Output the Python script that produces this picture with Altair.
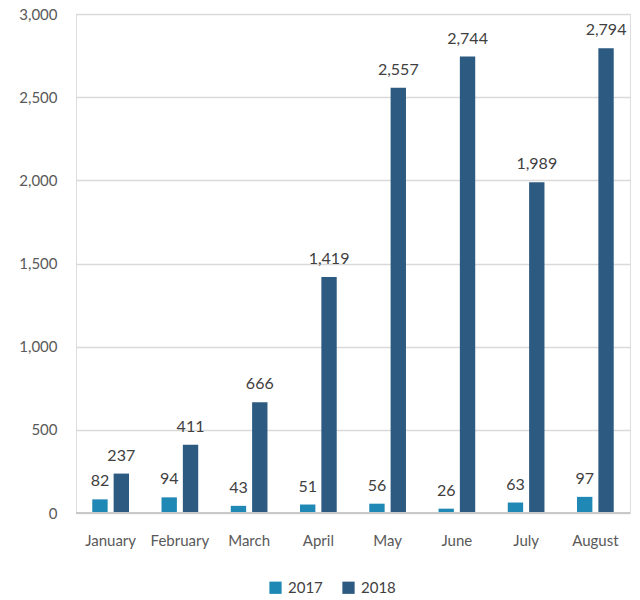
import altair as alt
import pandas as pd

months = ["January", "February", "March", "April", "May", "June", "July", "August"]
v2017 = [82, 94, 43, 51, 56, 26, 63, 97]
v2018 = [237, 411, 666, 1419, 2557, 2744, 1989, 2794]
years = ["2017", "2018"]
colors = ["#2088b4", "#2c5a80"]
y_ticks = [0, 500, 1000, 1500, 2000, 2500, 3000]

rows = []
for m, a, b in zip(months, v2017, v2018):
    rows.append({"month": m, "year": "2017", "value": a})
    rows.append({"month": m, "year": "2018", "value": b})
df = pd.DataFrame(rows)

FONT = "Lato"

x = alt.X("month:N", sort=months, title=None,
          scale=alt.Scale(paddingInner=0.47, paddingOuter=0.235),
          axis=alt.Axis(labelAngle=0, labelFont=FONT, labelFontSize=15, labelColor="#595959",
                        labelPadding=20, ticks=False, domain=False))
xo = alt.XOffset("year:N", scale=alt.Scale(paddingInner=0.28))

base = alt.Chart(df)

bars = base.mark_bar().encode(
    x=x, xOffset=xo,
    y=alt.Y("value:Q", title=None,
            scale=alt.Scale(domain=[0, 3000]),
            axis=alt.Axis(values=y_ticks, labelExpr="format(datum.value, ',')",
                          labelFont=FONT, labelFontSize=15, labelColor="#595959",
                          labelPadding=19, ticks=False, domain=False,
                          gridColor="#d9d9d9", gridWidth=1.5)),
    color=alt.Color("year:N", scale=alt.Scale(domain=years, range=colors),
                    legend=alt.Legend(title=None, orient="none", direction="horizontal",
                                      legendX=192, legendY=566, symbolType="square",
                                      symbolSize=150, symbolStrokeWidth=0,
                                      labelFont=FONT, labelFontSize=15, labelColor="#404040",
                                      columnPadding=18, labelOffset=5)),
)

labels = base.mark_text(dy=-18, font=FONT, fontSize=16, color="#404040").encode(
    x=x, xOffset=xo,
    y=alt.Y("value:Q"),
    text=alt.Text("value:Q", format=","),
)

zero = alt.Chart(pd.DataFrame({"value": [0]})).mark_rule(color="#c8c8c8", strokeWidth=2).encode(
    y=alt.Y("value:Q"))

chart = alt.layer(bars, zero, labels).properties(
    width=554, height=499,
    padding={"left": 76, "top": 14, "right": 10, "bottom": 87},
    autosize=alt.AutoSizeParams(type="none"),
).configure_view(stroke=None).configure(background="white")

chart.save("out.html", embed_options={"renderer": "svg", "actions": False})
